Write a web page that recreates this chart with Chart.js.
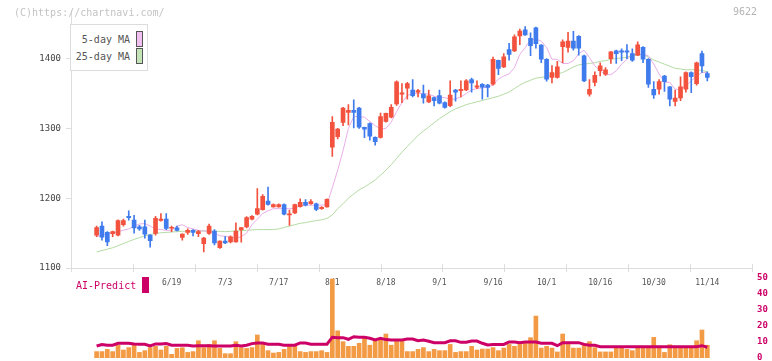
<!DOCTYPE html>
<html><head><meta charset="utf-8">
<script src="https://cdn.jsdelivr.net/npm/chart.js@4.4.1/dist/chart.umd.min.js"></script>
<style>
html,body{margin:0;padding:0;background:#fff;width:772px;height:361px;overflow:hidden;}
canvas{position:absolute;left:0;top:0;}
.t{position:absolute;font-family:"DejaVu Sans Mono",monospace;white-space:nowrap;line-height:10px;font-size:10px;}
</style></head><body>
<canvas id="c1" width="772" height="400"></canvas>
<canvas id="c2" width="772" height="400"></canvas>
<div class="t" style="left:14px;top:8px;color:#c4c4c4;">(C)https://chartnavi.com/</div>
<div class="t" style="left:733px;top:7px;color:#b4b4b4;">9622</div>
<div style="position:absolute;left:70px;top:24px;width:76px;height:45px;border:1px solid #dcdcdc;background:#fff;"></div>
<div class="t" style="left:70px;width:60px;text-align:right;top:35px;color:#555;">5-day MA</div>
<div class="t" style="left:70px;width:60px;text-align:right;top:52px;color:#555;">25-day MA</div>
<div style="position:absolute;left:136px;top:31px;width:5px;height:14px;border:1px solid #555;background:#f0c0f0;"></div>
<div style="position:absolute;left:136px;top:48px;width:5px;height:14px;border:1px solid #555;background:#c4e4b8;"></div>
<div class="t" style="left:76px;top:281px;color:#cc0066;">AI-Predict</div>
<div style="position:absolute;left:142px;top:277px;width:7px;height:16px;background:#cc0066;"></div>
<script>
// ---- data ----
const tickLabels = ["6/19","7/3","7/17","8/1","8/18","9/1","9/16","10/1","10/16","10/30","11/14"];
const tickIndex  = [14,24,34,44,54,64,74,84,94,104,114];
const priceTicks = [1100,1200,1300,1400];
const volumeTicks = [0,10,20,30,40,50];

const open = [1147,1160,1151,1149,1147,1162,1174,1168.5,1159,1159,
1147,1149.5,1168,1170,1157,1157.5,1143.7,1151,1154,1149,
1135,1149.5,1153,1129,1138.5,1137.5,1137.5,1155,1159,1170,
1177,1183.7,1196,1187.5,1187.5,1191,1176,1179,1188,1194,
1192,1192,1185,1187.5,1273,1288,1308.7,1323,1326,1329,
1301.6,1307,1287,1287,1310,1316,1335,1349,1357.6,1355,
1352,1349,1338,1344,1347,1337,1332.5,1355,1354,1355,
1370,1359,1363,1362,1363.5,1397.6,1388,1413,1411,1432.4,
1441,1429,1444,1419.5,1399,1373,1373,1417,1416,1425,
1432,1404,1349,1366,1382.5,1377.7,1400,1411,1411,1411,
1407,1405,1416,1399,1356,1356,1375,1359.6,1338.7,1343.5,
1356,1380,1364,1407,1378.6];
const high = [1160,1166,1152,1153,1169,1170,1182,1175.6,1161,1168.5,
1148,1174,1178,1178,1160,1160,1149,1156,1155,1154,
1144,1163,1155,1139,1145,1146,1164.6,1158,1173.5,1175,
1213.7,1205,1216,1192,1192,1192,1183,1191.5,1199,1198,
1198,1193,1188,1199,1316.8,1300,1330,1334,1341,1330,
1302,1308,1288,1322,1322,1334,1368,1364,1366,1370,
1356,1362,1355,1345,1355,1338,1368,1356,1368,1370,
1372,1368,1364,1363,1402,1398,1407,1421.7,1434,1442.4,
1446,1436.7,1445,1420,1400,1390,1396,1427,1437.7,1439,
1433,1405,1370,1381,1394,1387,1410,1412,1414,1420,
1414,1424,1417,1400,1367,1370,1376,1360,1355,1373.7,
1381,1381,1395,1410.6,1381];
const low = [1145,1140,1132,1145,1146,1160,1168.5,1150,1154,1142.8,
1130,1147,1167,1155,1152,1153,1140,1148,1146,1145,
1123,1148,1133,1128,1135,1136,1137,1137,1157.5,1169,
1176,1183,1190,1187,1187,1176,1161,1178,1187,1189,
1191,1182,1184,1187,1259.8,1285,1304,1305,1300.7,1300,
1286.6,1283,1276,1286,1309,1315,1333,1337,1342,1345,
1345,1336,1337,1332,1335,1329,1331,1339,1345,1354,
1352,1357,1342,1345,1362,1377,1387,1397.6,1410,1420,
1433,1404,1415,1394,1367.8,1365,1372,1394,1409,1412,
1405,1367,1346,1361,1375,1376,1393,1393,1397,1400,
1396,1404,1394,1358.7,1343,1349,1353,1332,1332,1339.7,
1352,1351,1362,1380,1368];
const close = [1158,1144,1137.5,1152,1168,1168,1172,1157.5,1156,1148.5,
1139,1171,1170,1156.6,1158,1154,1148.5,1154,1151,1152,
1143,1160,1136,1138.5,1136,1144.7,1152.8,1158,1172.3,1174,
1185,1202.7,1191,1191,1191,1177,1177.5,1191,1194,1190,
1195,1184,1187,1198.5,1308.7,1299,1329.2,1326,1323,1301.6,
1298.7,1289,1281,1317,1321.6,1330,1366.8,1351,1364.3,1346.7,
1354,1343.5,1346.7,1339.7,1336,1330,1347.8,1352,1356,1368,
1365,1361,1359,1358.6,1399,1386,1402.4,1406,1431,1439.5,
1434,1418.6,1421.4,1399,1370.6,1380,1388,1424,1425,1415,
1415,1368,1356,1376,1389.6,1384,1409.6,1407,1409,1409,
1397.7,1419.6,1399,1363.5,1348,1367,1367,1342,1343.5,1359.6,
1380,1374,1394,1389.6,1373];
const ma5 = [1144.7,1147,1149.5,1150,1152,1154,1156,1160,1163,1163.7,
1160,1156,1155,1154,1154,1160,1162,1158,1156,1154,
1153,1153,1150,1146,1145.6,1144,1142.4,1145,1150,1162,
1170,1178,1182,1185,1185,1185,1185,1186,1189,1190,
1190,1190,1190,1191,1215,1240,1268,1300,1317,1317,
1316,1310,1304,1299,1300,1309,1324,1337,1347,1350,
1350,1350,1349,1346,1345,1344,1342,1342,1345,1350,
1355,1357,1358,1359,1362,1370.6,1375,1378,1387,1406,
1415.7,1427,1428,1425,1415.7,1399,1399,1393,1393,1397,
1407,1412,1401.5,1389.6,1382.5,1377,1377,1382.5,1392,1399,
1406,1406,1406,1404,1392,1378,1366,1366,1356,1356,
1361,1368,1375,1380,1380];
const ma25 = [1123,1125,1127,1129,1132,1135,1138,1141,1143.5,1146,
1148,1149.5,1150.5,1151,1151.5,1152,1152.5,1153,1153,1153,
1153,1153,1152.5,1152.5,1152,1152.5,1153,1153.5,1154,1154.5,
1155,1155,1155,1155,1156,1158,1160,1162,1164,1165,
1166.5,1168,1169,1171,1176,1185,1192,1200,1206,1212,
1216,1221,1226,1233,1240,1248,1257,1266,1274,1282,
1290,1296,1302,1308,1314,1319,1324,1328,1331,1334,
1336,1338,1340,1342,1344,1346,1349,1352,1357,1362,
1366,1369,1372,1373,1374,1376,1378,1380,1384,1388,
1391,1392,1393,1394,1396,1397,1399,1400,1401,1402,
1404,1405,1406,1402,1398,1395,1392,1389,1386,1385,
1384,1384,1384,1383,1381];
const volume = [4,4,5.4,4,8.1,5,6.5,8,3.5,4.6,
6.5,7.3,5,7.3,2.3,6,6.4,3.5,4,10.8,
6.5,8.5,10.8,6,2.7,2.7,10.2,6.5,6,6.5,
14.4,9,4.6,3.1,3.5,5.4,7.3,7.3,4,3.5,
4,4,4.6,3.5,49.4,17,10.2,7.3,7.3,9.2,
12.3,8,10.8,11.2,15,8,10.8,10.8,4,4,
5.4,6.5,4,5.4,4.6,4.6,8.5,3.5,4,4,
7.3,5,5.6,5.6,6.5,4.6,6.2,8.5,7.3,8.5,
10.2,12.7,26.2,6.2,7.3,6.2,3.8,15,8.5,6.2,
6.2,9,10.2,6.5,3.8,3.8,3.8,6.5,6.5,5.4,
4.6,6.5,6.5,6.5,12.9,6.5,3.5,8.3,6.5,6.5,
6.5,6.5,10.8,17.5,8];
const aiPredict = [7.5,8.4,8,8,9.2,9.2,9.2,8.8,8.6,8.6,
7.5,8.8,8.8,9,8,8,8,8,7.5,7.7,
7.7,7.7,7.5,7.5,7.5,7.5,8,7.5,8,9,
9.4,9.4,8.6,8.6,8.6,8,8,8,9.4,9.4,
8.6,8.6,8.6,8.6,13,12.7,12.7,11.7,13.3,12.9,
12.9,12.3,11.25,12.3,11.5,11.25,11.25,11.25,11.9,11.9,
10.8,11.25,10.5,9.6,9.6,9.6,10.8,10.8,9.8,9.8,
10.6,10.6,9.2,8.1,8.5,8.5,8.5,10,10,9.6,
10,10,10,9.2,9.2,9.2,7.7,9.6,9.6,9.6,
9.6,8.5,8,8,7.1,7.1,7.1,7.1,7.1,7.1,
7.1,7.1,7.1,7.1,7.1,7.1,7.1,7.1,7.1,7.1,
7.1,7.1,7.1,7.7,6.7];

// ---- layout / style ----
const XMIN = -4.78, XMAX = 122.34;
const RED = '#f2523e', BLUE = '#3f7bec';
const MONO = '"DejaVu Sans Mono", monospace';
const idx = close.map((_, i) => i);
const candleColors = idx.map(i => close[i] >= open[i] ? RED : BLUE);

const tickMarks = {
  id: 'tickMarks',
  afterDraw(chart) {
    const {ctx, chartArea: a} = chart;
    ctx.save();
    ctx.strokeStyle = '#dddddd';
    ctx.lineWidth = 1;
    for (let k = 0; k <= 11; k++) {
      const x = Math.round(a.left + k * (a.right - a.left) / 11) + 0.5;
      ctx.beginPath();
      ctx.moveTo(x, a.bottom - 4);
      ctx.lineTo(x, a.bottom + 4);
      ctx.stroke();
    }
    ctx.restore();
  }
};

new Chart(document.getElementById('c1'), {
  type: 'bar',
  data: {
    datasets: [
      {type: 'line', data: idx.map(i => ({x: i, y: ma25[i]})), borderColor: '#b3dba3', borderWidth: 1, pointRadius: 0, tension: 0, order: 4},
      {type: 'line', data: idx.map(i => ({x: i, y: ma5[i]})), borderColor: '#e8aee8', borderWidth: 1, pointRadius: 0, tension: 0, order: 3},
      {data: idx.map(i => ({x: i, y: [low[i], high[i]]})), backgroundColor: candleColors, barThickness: 1, grouped: false, order: 2},
      {data: idx.map(i => ({x: i, y: [open[i], close[i]]})), backgroundColor: candleColors, barThickness: 4, grouped: false, minBarLength: 1, order: 1}
    ]
  },
  options: {
    responsive: false, animation: false,
    layout: {padding: {left: 0, right: 20, top: 9, bottom: 0}},
    plugins: {legend: {display: false}, tooltip: {enabled: false}},
    scales: {
      x: {
        type: 'linear', min: XMIN, max: XMAX, offset: false,
        afterBuildTicks: s => { s.ticks = tickIndex.map(v => ({value: v})); },
        afterFit: s => { s.height = 400 - 268; },
        ticks: {autoSkip: false, maxRotation: 0, padding: 10, color: '#555', font: {family: MONO, size: 8},
          callback: (v, i) => tickLabels[i]},
        grid: {display: false, drawTicks: false},
        border: {color: '#dddddd'}
      },
      y: {
        min: 1100, max: 1469,
        afterBuildTicks: s => { s.ticks = priceTicks.map(v => ({value: v})); },
        afterFit: s => { s.width = 71; },
        ticks: {padding: 5, color: '#444', font: {family: MONO, size: 9}, callback: v => String(v)},
        grid: {drawOnChartArea: false, tickLength: 5, color: '#dddddd'},
        border: {color: '#dddddd'}
      }
    }
  },
  plugins: [tickMarks]
});

new Chart(document.getElementById('c2'), {
  type: 'bar',
  data: {
    datasets: [
      {type: 'line', data: idx.map(i => ({x: i, y: aiPredict[i]})), borderColor: '#cc0066', borderWidth: 3, pointRadius: 0, tension: 0, order: 0},
      {data: idx.map(i => ({x: i, y: volume[i]})), backgroundColor: '#f39a45', barThickness: 4, grouped: false, order: 1}
    ]
  },
  options: {
    responsive: false, animation: false,
    layout: {padding: {left: 71, right: 0, top: 278, bottom: 42}},
    plugins: {legend: {display: false}, tooltip: {enabled: false}},
    scales: {
      x: {type: 'linear', display: false, min: XMIN, max: XMAX, offset: false},
      y: {
        position: 'right', min: 0, max: 50,
        afterBuildTicks: s => { s.ticks = volumeTicks.map(v => ({value: v})); },
        afterFit: s => { s.width = 20; },
        ticks: {padding: 5, color: '#cc0066', font: {family: MONO, size: 9, weight: 'bold'}, callback: v => String(v)},
        grid: {display: false, drawTicks: false, tickLength: 0},
        border: {display: false}
      }
    }
  }
});
</script>
</body></html>
